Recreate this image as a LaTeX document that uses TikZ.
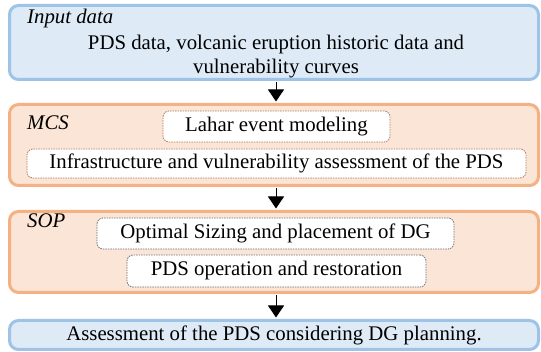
\documentclass[tikz,border=0pt]{standalone}
\usepackage{fontspec}
\setmainfont{Liberation Serif}
\usetikzlibrary{arrows.meta}
\definecolor{bluebd}{HTML}{9DC3E6}
\definecolor{bluefl}{HTML}{DEEBF7}
\definecolor{orgbd}{HTML}{F4B183}
\definecolor{orgfl}{HTML}{FBE5D6}
\definecolor{dashbr}{HTML}{B07A5A}
\definecolor{dashgr}{HTML}{707070}
\begin{document}
\begin{tikzpicture}[x=1pt,y=-1pt,
  font=\rmfamily\fontsize{20.8}{24}\selectfont,
  outerbox/.style={draw, line width=3pt, rounded corners=9pt, inner sep=0pt, minimum width=529pt},
  bluebox/.style={outerbox, draw=bluebd, fill=bluefl},
  orgbox/.style={outerbox, draw=orgbd, fill=orgfl},
  innerbox/.style={draw, dashed, dash pattern=on 1.5pt off 1pt, line width=0.8pt, fill=white, rounded corners=6pt, inner sep=0pt},
  brbox/.style={innerbox, draw=dashbr},
  grbox/.style={innerbox, draw=dashgr},
  tag/.style={anchor=west, inner sep=0pt, font=\rmfamily\fontsize{20.8}{24}\selectfont\itshape},
  flow/.style={line width=1pt, -{Triangle[width=16pt,length=12pt]}}
]
\useasboundingbox (0,0) rectangle (541,352);
% outer boxes
\node[bluebox, minimum height=74pt] (input) at (274,42.5) {};
\node[orgbox, minimum height=81pt] (mcs) at (274,145) {};
\node[orgbox, minimum height=81pt] (sop) at (274,252) {};
\node[bluebox, minimum height=29pt] (final) at (274,335) {Assessment of the PDS considering DG planning.};
% labels
\node[tag] (tin) at (27,18.5) {Input data};
\node[align=center, inner sep=0pt] (tdata) at (276,57) {PDS data, volcanic eruption historic data and\\vulnerability curves};
\node[tag] (tmcs) at (27,123) {MCS};
\node[tag] (tsop) at (27,221) {SOP};
% inner boxes
\node[brbox, minimum width=227pt, minimum height=31pt] (lahar) at (276.5,126.5) {Lahar event modeling};
\node[brbox, minimum width=499pt, minimum height=29pt] (infra) at (276.5,163.5) {Infrastructure and vulnerability assessment of the PDS};
\node[grbox, minimum width=357pt, minimum height=31pt] (opt) at (275.5,233.5) {Optimal Sizing and placement of DG};
\node[grbox, minimum width=299pt, minimum height=32pt] (oper) at (276.5,271) {PDS operation and restoration};
% arrows
\draw[flow] ([xshift=2pt,yshift=-1.5pt]input.south) -- ([xshift=2pt,yshift=1.5pt]mcs.north);
\draw[flow] ([xshift=2pt,yshift=-1.5pt]mcs.south) -- ([xshift=2pt,yshift=1.5pt]sop.north);
\draw[flow] ([xshift=2pt,yshift=-1.5pt]sop.south) -- ([xshift=2pt,yshift=1.5pt]final.north);
\end{tikzpicture}
\end{document}
